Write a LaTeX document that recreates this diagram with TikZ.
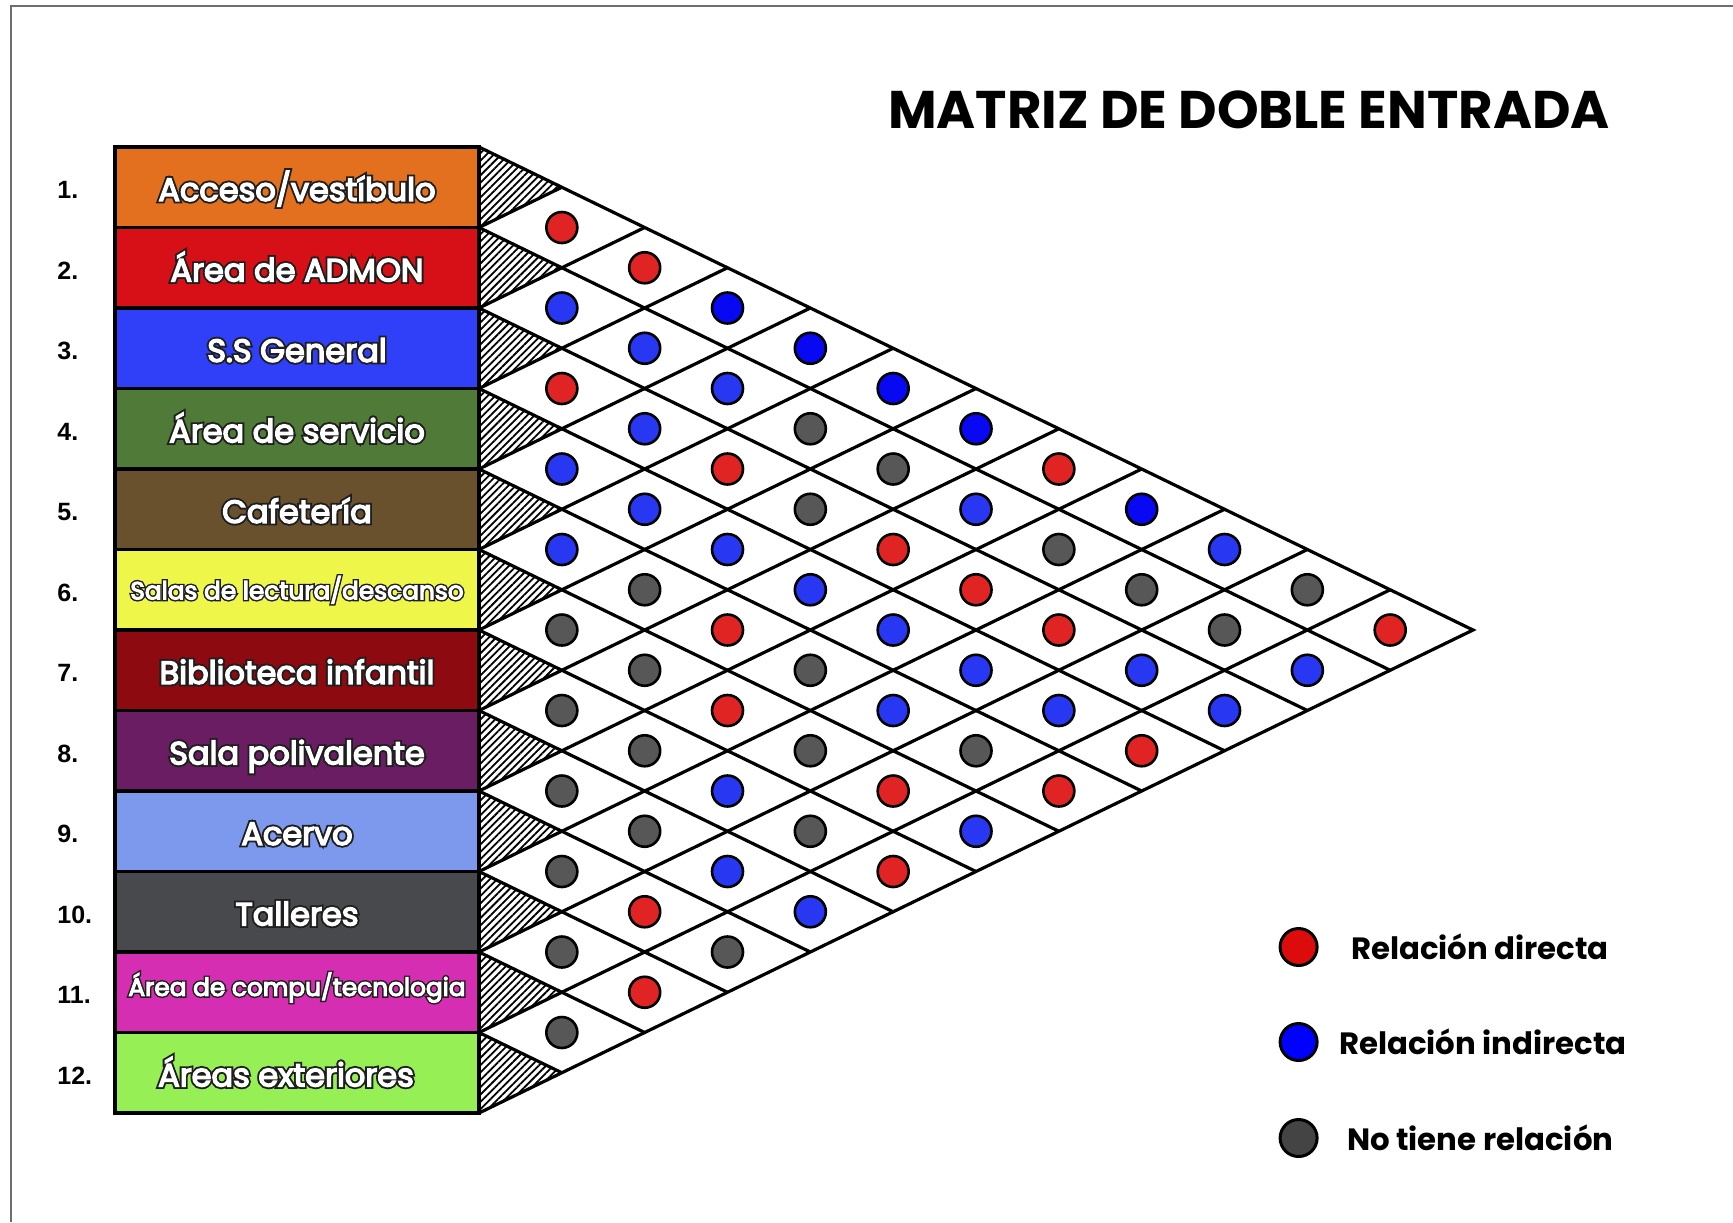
\documentclass[tikz,border=0pt]{standalone}
\usepackage{fontspec}
\setmainfont{Poppins}
\newfontfamily\numfont{Liberation Sans}
\newfontfamily\rimfont[FakeBold=16]{Poppins}
\newfontfamily\areafont[FakeBold=4.4]{Poppins}
\usetikzlibrary{positioning,patterns.meta}
\definecolor{rim}{HTML}{1E1E1E}
\definecolor{frameline}{HTML}{6E6E6E}
\definecolor{area1}{HTML}{E2701E}
\definecolor{area2}{HTML}{D70F17}
\definecolor{area3}{HTML}{3040F8}
\definecolor{area4}{HTML}{4F7A37}
\definecolor{area5}{HTML}{6A512D}
\definecolor{area6}{HTML}{EEF64A}
\definecolor{area7}{HTML}{8C0A10}
\definecolor{area8}{HTML}{6A1D63}
\definecolor{area9}{HTML}{7C99EE}
\definecolor{area10}{HTML}{48494D}
\definecolor{area11}{HTML}{D62EB3}
\definecolor{area12}{HTML}{95EF55}
\definecolor{dotR}{HTML}{E02424}
\definecolor{dotB}{HTML}{2838F2}
\definecolor{dotP}{HTML}{0808F2}
\definecolor{dotG}{HTML}{575757}
\definecolor{legR}{HTML}{DD0C0C}
\definecolor{legB}{HTML}{0000FF}
\definecolor{legG}{HTML}{444444}

\newcommand{\rimtext}[1]{\leavevmode\rlap{\rimfont\textcolor{rim}{#1}}{\areafont\textcolor{white}{#1}}}

\begin{document}
\begin{tikzpicture}[x=0.5pt,y=-0.5pt,
          area/.style={
            draw=black,
            line width=1.6pt,
            outer sep=0pt,
            inner sep=0pt,
            minimum width=182pt,
            minimum height=40.25pt,
            text height=14pt,
            text depth=0.4pt,
            font=\fontsize{16}{19}\selectfont
          },
          areasmall/.style={font=\fontsize{12.4}{14}\selectfont},
          num/.style={anchor=west,inner sep=0pt,font=\numfont\bfseries\fontsize{12.5}{14}\selectfont},
          hatch/.style={pattern={Lines[angle=45,distance=2.6pt,line width=0.9pt]}},
          diag/.style={draw=black,line width=1.6pt,line join=miter},
          dot/.style={circle,draw=black,line width=1.3pt,minimum size=15.5pt,inner sep=0pt},
          legdot/.style={line width=1.5pt,minimum size=18.5pt},
          legtext/.style={inner sep=0pt,font=\bfseries\fontsize{15.4}{18}\selectfont},
          heading/.style={inner sep=0pt,font=\bfseries\fontsize{26.5}{30}\selectfont},
          pageline/.style={draw=frameline,line width=1pt}
        ]
        \useasboundingbox (0,0) rectangle (1733,1222);
        \pgfmathsetmacro{\xo}{479}
        \pgfmathsetmacro{\yo}{147}
        \pgfmathsetmacro{\rowh}{80.5}
        \pgfmathsetmacro{\cellw}{165.67}
        \draw[pageline] (11,1222) -- (11,6) -- (1733,6);
        \node[heading] (ttl) at (1249,110) {MATRIZ DE DOBLE ENTRADA};
        \foreach \k in {1,...,12}
          \fill[hatch] (\xo,{\yo+(\k-1)*\rowh}) -- (\xo,{\yo+\k*\rowh})
            -- ({\xo+\cellw/2},{\yo+(\k-0.5)*\rowh}) -- cycle;
        \draw[diag] (\xo,\yo) -- ({\xo+6*\cellw},{\yo+6*\rowh}) -- (\xo,{\yo+12*\rowh});
        \foreach \k in {1,...,11} {
          \draw[diag] (\xo,{\yo+\k*\rowh}) -- ++({(12-\k)*\cellw/2},{(12-\k)*\rowh/2});
          \draw[diag] (\xo,{\yo+\k*\rowh}) -- ++({\k*\cellw/2},{-\k*\rowh/2});
        }
        \node[area,fill=area1,anchor=north west] (a1) at (115,147) {\rimtext{Acceso/vestíbulo}};
        \node[area,fill=area2,below=0pt of a1] (a2) {\rimtext{Área de ADMON}};
        \node[area,fill=area3,below=0pt of a2] (a3) {\rimtext{S.S General}};
        \node[area,fill=area4,below=0pt of a3] (a4) {\rimtext{Área de servicio}};
        \node[area,fill=area5,below=0pt of a4] (a5) {\rimtext{Cafetería}};
        \node[area,areasmall,fill=area6,below=0pt of a5] (a6) {\raisebox{2pt}{\rimtext{Salas de lectura/descanso}}};
        \node[area,fill=area7,below=0pt of a6] (a7) {\rimtext{Biblioteca infantil}};
        \node[area,fill=area8,below=0pt of a7] (a8) {\rimtext{Sala polivalente}};
        \node[area,fill=area9,below=0pt of a8] (a9) {\rimtext{Acervo}};
        \node[area,fill=area10,below=0pt of a9] (a10) {\rimtext{Talleres}};
        \node[area,areasmall,fill=area11,below=0pt of a10] (a11) {\raisebox{5pt}{\rimtext{Área de compu/tecnologia}}};
        \node[area,fill=area12,below=0pt of a11] (a12) {\rimtext{Áreas exteriores}\hspace*{11pt}};
        \foreach \k in {1,...,12}
          \node[num] (n\k) at (57,{\yo+(\k-0.5)*\rowh+3}) {\k.};
        \foreach \i/\j/\c in {1/2/R,1/3/R,2/3/B,1/4/P,2/4/B,1/5/P,3/4/R,2/5/B,1/6/P,
            3/5/B,2/6/G,1/7/P,4/5/B,3/6/R,2/7/G,1/8/R,4/6/B,3/7/G,2/8/B,1/9/P,
            5/6/B,4/7/B,3/8/R,2/9/G,1/10/B,5/7/G,4/8/B,3/9/R,2/10/G,1/11/G,
            6/7/G,5/8/R,4/9/B,3/10/R,2/11/G,1/12/R,6/8/G,5/9/G,4/10/B,3/11/B,2/12/B,
            7/8/G,6/9/R,5/10/B,4/11/B,3/12/B,7/9/G,6/10/G,5/11/G,4/12/R,
            8/9/G,7/10/B,6/11/R,5/12/R,8/10/G,7/11/G,6/12/B,9/10/G,8/11/B,7/12/R,
            9/11/R,8/12/B,10/11/G,9/12/G,10/12/R,11/12/G}
          \node[dot,fill=dot\c] (d\i-\j) at ({\xo+(\j-\i)*\cellw/2},{\yo+(\i+\j-1)*\rowh/2}) {};
        \node[dot,legdot,fill=legR] (kR) at (1298.6,947) {};
        \node[dot,legdot,fill=legB] (kB) at (1298.6,1042) {};
        \node[dot,legdot,fill=legG] (kG) at (1298.6,1138) {};
        \node[legtext,right=16pt of kR] (tR) {Relación directa};
        \node[legtext,right=10pt of kB] (tB) {Relación indirecta};
        \node[legtext,right=14pt of kG] (tG) {No tiene relación};
      \end{tikzpicture}
\end{document}
